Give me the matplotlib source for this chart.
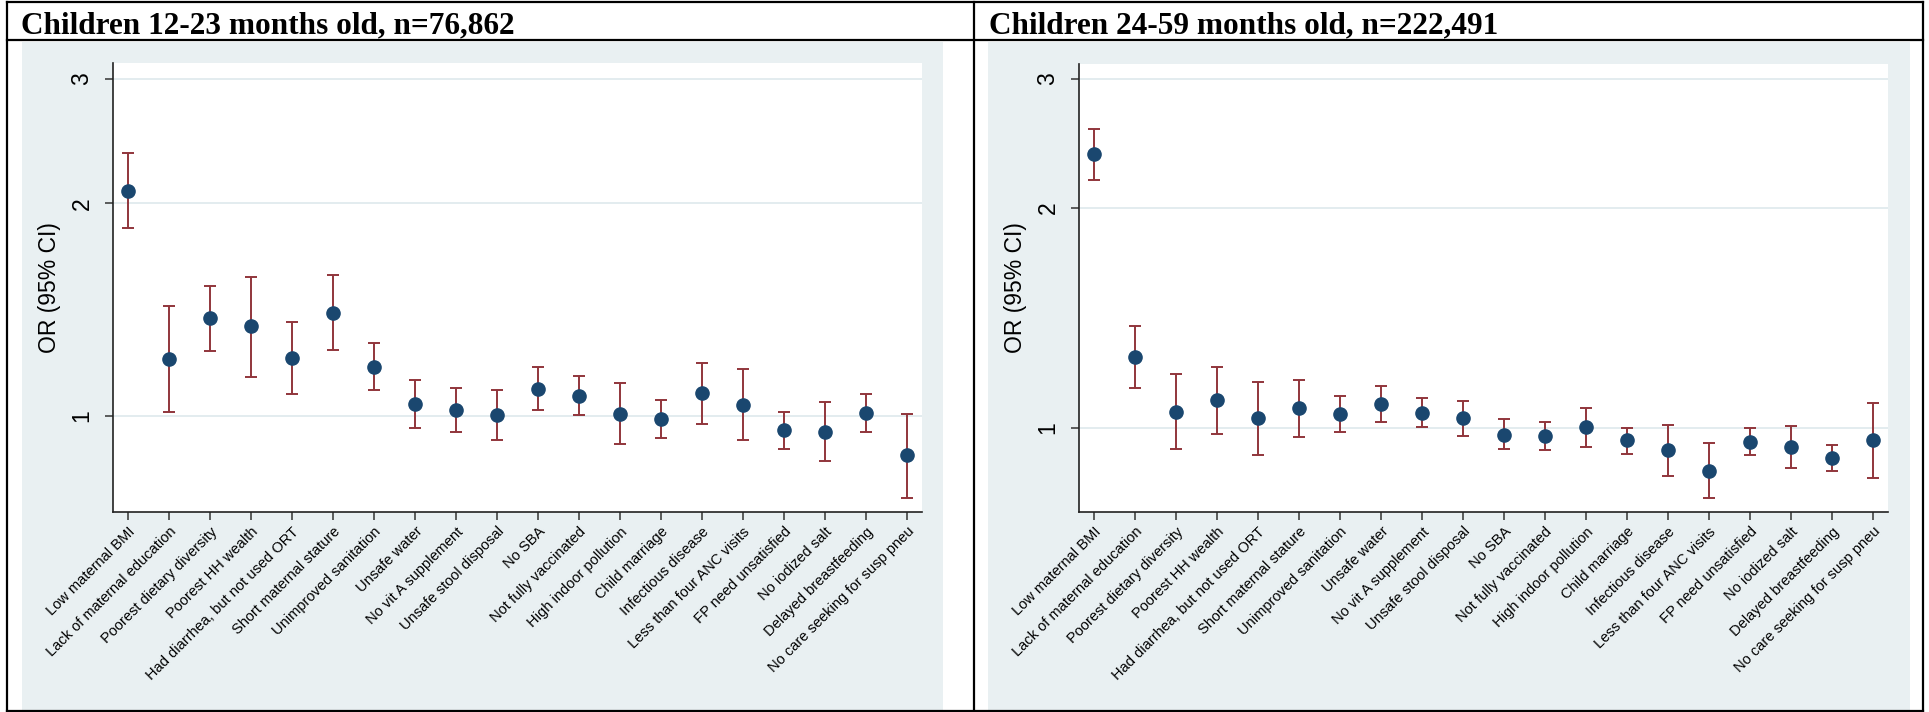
import matplotlib
matplotlib.use("Agg")
from matplotlib import pyplot as plt
from matplotlib.patches import Rectangle
from matplotlib.ticker import FixedLocator, NullLocator

# risk factors, same order in both panels
factors = ["Low maternal BMI", "Lack of maternal education", "Poorest dietary diversity",
           "Poorest HH wealth", "Had diarrhea, but not used ORT", "Short maternal stature",
           "Unimproved sanitation", "Unsafe water", "No vit A supplement",
           "Unsafe stool disposal", "No SBA", "Not fully vaccinated", "High indoor pollution",
           "Child marriage", "Infectious disease", "Less than four ANC visits",
           "FP need unsatisfied", "No iodized salt", "Delayed breastfeeding",
           "No care seeking for susp pneu"]

# children 12-23 months
or_12_23 = [2.085, 1.204, 1.375, 1.339, 1.207, 1.399, 1.172, 1.038, 1.019, 1.003,
            1.093, 1.068, 1.007, 0.989, 1.077, 1.036, 0.954, 0.950, 1.011, 0.879]
lo_12_23 = [1.843, 1.014, 1.236, 1.137, 1.073, 1.239, 1.087, 0.960, 0.949, 0.925,
            1.020, 1.002, 0.911, 0.930, 0.975, 0.923, 0.898, 0.864, 0.950, 0.765]
hi_12_23 = [2.354, 1.433, 1.528, 1.575, 1.359, 1.584, 1.267, 1.124, 1.094, 1.088,
            1.173, 1.140, 1.115, 1.052, 1.189, 1.164, 1.012, 1.046, 1.074, 1.007]

# children 24-59 months
or_24_59 = [2.366, 1.249, 1.052, 1.092, 1.030, 1.064, 1.045, 1.079, 1.049, 1.030,
            0.979, 0.976, 1.002, 0.961, 0.931, 0.874, 0.957, 0.941, 0.910, 0.962]
lo_24_59 = [2.185, 1.132, 0.934, 0.982, 0.918, 0.972, 0.988, 1.019, 1.003, 0.974,
            0.934, 0.932, 0.941, 0.921, 0.860, 0.801, 0.917, 0.880, 0.873, 0.853]
hi_24_59 = [2.563, 1.379, 1.186, 1.212, 1.157, 1.163, 1.105, 1.141, 1.099, 1.089,
            1.028, 1.020, 1.066, 1.000, 1.008, 0.954, 1.000, 1.005, 0.947, 1.082]

titles = ["Children 12-23 months old, n=76,862", "Children 24-59 months old, n=222,491"]

W, H = 1929, 712
NAVY = "#1a476f"
MAROON = "#90353b"
BG = "#e9f0f2"
GRID = "#e3ecef"


def fr(x0, y0, x1, y1):
    # pixel box (from top-left) -> figure fraction rect
    return [x0 / W, 1 - y1 / H, (x1 - x0) / W, (y1 - y0) / H]


fig = plt.figure(figsize=(W / 100, H / 100), dpi=100)
fig.patch.set_facecolor("white")

# table borders
for y in (2, 40, 711):
    fig.add_artist(plt.Line2D([7 / W, 1923 / W], [1 - y / H] * 2, color="black", lw=1.6))
for x in (7, 974, 1923):
    fig.add_artist(plt.Line2D([x / W] * 2, [1 - 2 / H, 1 - 711 / H], color="black", lw=1.6))

panels = [
    dict(bg=(22, 943), ax=(113, 63, 922, 512), ylim=(0.731, 3.16), tx=21,
         vals=(or_12_23, lo_12_23, hi_12_23)),
    dict(bg=(988, 1910), ax=(1079, 64, 1888, 512), ylim=(0.767, 3.146), tx=989,
         vals=(or_24_59, lo_24_59, hi_24_59)),
]

for p, title in zip(panels, titles):
    b0, b1 = p["bg"]
    r = fr(b0, 42, b1, 712)
    fig.add_artist(Rectangle((r[0], r[1]), r[2], r[3], transform=fig.transFigure,
                             facecolor=BG, edgecolor="none", zorder=0))
    fig.text(p["tx"] / W, 1 - 33 / H, title, family="Liberation Serif", weight="bold",
             fontsize=22.5, ha="left", va="baseline")

    ax = fig.add_axes(fr(*p["ax"]))
    ax.set_facecolor("white")
    est, lo, hi = p["vals"]
    xs = list(range(1, len(factors) + 1))
    yerr = [[e - l for e, l in zip(est, lo)], [h - e for e, h in zip(est, hi)]]
    ax.errorbar(xs, est, yerr=yerr, fmt="none", ecolor=MAROON, elinewidth=1.4,
                capsize=4.5, capthick=1.4, zorder=2)
    ax.plot(xs, est, "o", color=NAVY, markersize=9.5, zorder=3)

    ax.set_yscale("log")
    ax.set_ylim(*p["ylim"])
    ax.set_xlim(0.63, 20.37)
    ax.yaxis.set_major_locator(FixedLocator([1, 2, 3]))
    ax.yaxis.set_minor_locator(NullLocator())
    ax.set_yticklabels(["1", "2", "3"])
    ax.grid(axis="y", color=GRID, lw=1.4)
    ax.set_axisbelow(True)

    ax.set_xticks(xs)
    ax.set_xticklabels(factors, rotation=45, ha="right", va="top",
                       rotation_mode="anchor", family="Liberation Sans", fontsize=10.5)
    for lab in ax.get_yticklabels():
        lab.set_rotation(90)
        lab.set_va("center")
        lab.set_family("Liberation Sans")
        lab.set_fontsize(16.5)
    ax.tick_params(axis="both", length=6, width=1.1, color="#333333")
    ax.tick_params(axis="x", pad=3)
    ax.tick_params(axis="y", pad=8)

    ax.set_ylabel("OR (95% CI)", family="Liberation Sans", fontsize=16.5)
    ax.yaxis.set_label_coords(-0.064, 0.5)

    for s in ("top", "right"):
        ax.spines[s].set_visible(False)
    for s in ("left", "bottom"):
        ax.spines[s].set_color("#222222")
        ax.spines[s].set_linewidth(1.2)

fig.savefig("out.png", dpi=100)
